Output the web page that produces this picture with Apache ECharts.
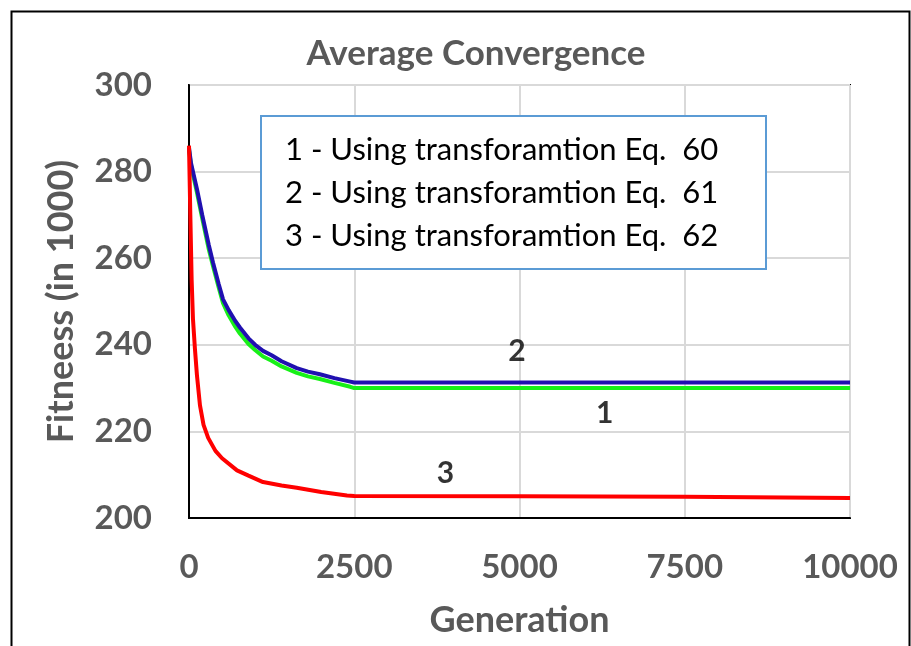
<!DOCTYPE html>
<html>
<head>
<meta charset="utf-8">
<script src="https://cdn.jsdelivr.net/npm/echarts@6/dist/echarts.min.js"></script>
<style>
  html, body { margin: 0; padding: 0; background: #fff; }
  #chart { width: 911px; height: 646px; }
</style>
</head>
<body>
<div id="chart"></div>
<script>
// Average fitness (in 1000) against generation for three transformations
const genEq60 = [0, 30, 60, 120, 200, 300, 363, 450, 515, 600, 700, 770, 900, 1000, 1120, 1250, 1400, 1630, 1800, 1980, 2200, 2440, 2500, 5000, 7500, 10000];
const fitEq60 = [285, 281.5, 279.3, 275.2, 269.2, 262, 258.2, 253.2, 249.6, 246.8, 244.2, 242.6, 240.2, 238.8, 237.3, 236.3, 235, 233.5, 232.7, 232.1, 231.2, 230.3, 230.0, 230.0, 230.0, 230.0];

const genEq61 = [0, 30, 60, 120, 200, 300, 363, 450, 515, 600, 700, 770, 900, 1000, 1120, 1250, 1400, 1630, 1800, 1980, 2200, 2440, 2500, 5000, 7500, 10000];
const fitEq61 = [285.5, 282, 280, 276, 270, 263, 259, 254, 250.5, 248, 245.5, 244, 241.5, 240, 238.6, 237.6, 236.2, 234.6, 233.8, 233.2, 232.3, 231.5, 231.3, 231.3, 231.3, 231.3];

const genEq62 = [0, 20, 40, 60, 90, 120, 166, 220, 290, 400, 500, 726, 900, 1120, 1400, 1630, 2000, 2390, 2500, 5000, 7500, 10000];
const fitEq62 = [286, 270, 255, 246, 239, 233, 226, 221.5, 218.5, 215.5, 213.8, 211, 209.8, 208.3, 207.5, 207, 206, 205.2, 205.1, 205.0, 204.9, 204.6];

const seriesNames = ['1 - Using transforamtion Eq.  60', '2 - Using transforamtion Eq.  61', '3 - Using transforamtion Eq.  62'];
const curveTags = ['1', '2', '3'];
const tagGen = [6290, 4960, 3880];
const tagFit = [224.2, 238.6, 210.4];

const xTicks = [0, 2500, 5000, 7500, 10000];
const yTicks = [200, 220, 240, 260, 280, 300];

const FONT = 'Lato, "Open Sans", sans-serif';
const GREY = '#595959';

function pairs(xs, ys) { return xs.map((x, i) => [x, ys[i]]); }

const chart = echarts.init(document.getElementById('chart'));
chart.setOption({
  animation: false,
  backgroundColor: '#fff',
  title: {
    text: 'Average Convergence',
    left: 471, top: 31, textAlign: 'center',
    textStyle: { fontFamily: FONT, fontSize: 35, fontWeight: 'bold', color: GREY }
  },
  grid: {
    left: 189, right: 61, top: 85, bottom: 128,
    show: true, borderColor: '#000', borderWidth: 2, backgroundColor: 'transparent'
  },
  xAxis: {
    type: 'value', min: xTicks[0], max: xTicks[xTicks.length - 1], interval: 2500,
    name: 'Generation', nameLocation: 'middle', nameGap: 84,
    nameTextStyle: { fontFamily: FONT, fontSize: 36, fontWeight: 'bold', color: GREY },
    axisLine: { show: true, lineStyle: { color: '#000', width: 2 } },
    axisTick: { show: false },
    axisLabel: { margin: 33, fontFamily: FONT, fontSize: 33, fontWeight: 'bold', color: GREY, formatter: v => String(v) },
    splitLine: { show: true, lineStyle: { color: '#d9d9d9', width: 2 } }
  },
  yAxis: {
    type: 'value', min: yTicks[0], max: yTicks[yTicks.length - 1], interval: 20,
    name: 'Fitneess (in 1000)', nameLocation: 'middle', nameGap: 110, nameRotate: 90,
    nameTextStyle: { fontFamily: FONT, fontSize: 36, fontWeight: 'bold', color: GREY },
    axisLine: { show: true, lineStyle: { color: '#000', width: 2 } },
    axisTick: { show: false },
    axisLabel: { margin: 37, fontFamily: FONT, fontSize: 33, fontWeight: 'bold', color: GREY },
    splitLine: { show: true, lineStyle: { color: '#d9d9d9', width: 2 } }
  },
  series: [
    {
      name: seriesNames[0], type: 'line', data: pairs(genEq60, fitEq60),
      showSymbol: false, lineStyle: { color: '#18f018', width: 4 }, z: 2
    },
    {
      name: seriesNames[1], type: 'line', data: pairs(genEq61, fitEq61),
      showSymbol: false, lineStyle: { color: '#2010b0', width: 4 }, z: 3
    },
    {
      name: seriesNames[2], type: 'line', data: pairs(genEq62, fitEq62),
      showSymbol: false, lineStyle: { color: '#ff0000', width: 4 }, z: 4
    },
    {
      type: 'scatter', symbolSize: 0, silent: true, z: 5,
      data: tagGen.map((g, i) => ({ value: [g, tagFit[i]], tag: curveTags[i] })),
      label: {
        show: true, position: 'inside',
        formatter: p => p.data.tag,
        fontFamily: FONT, fontSize: 30, fontWeight: 'bold', color: '#000'
      }
    }
  ],
  graphic: [
    {
      type: 'rect', left: 9, top: 9, z: -1, silent: true,
      shape: { width: 898, height: 660 },
      style: { fill: 'none', stroke: '#000', lineWidth: 2 }
    },
    {
      type: 'rect', left: 260, top: 115, z: 10, silent: true,
      shape: { width: 505, height: 153 },
      style: { fill: '#fff', stroke: '#5b9bd5', lineWidth: 2 }
    }
  ].concat(seriesNames.map((t, i) => ({
    type: 'text', x: 285, y: 150 + i * 43, z: 11, silent: true,
    style: { text: t, fontFamily: FONT, fontSize: 31, fill: '#000', verticalAlign: 'middle' }
  })))
});
</script>
</body>
</html>
